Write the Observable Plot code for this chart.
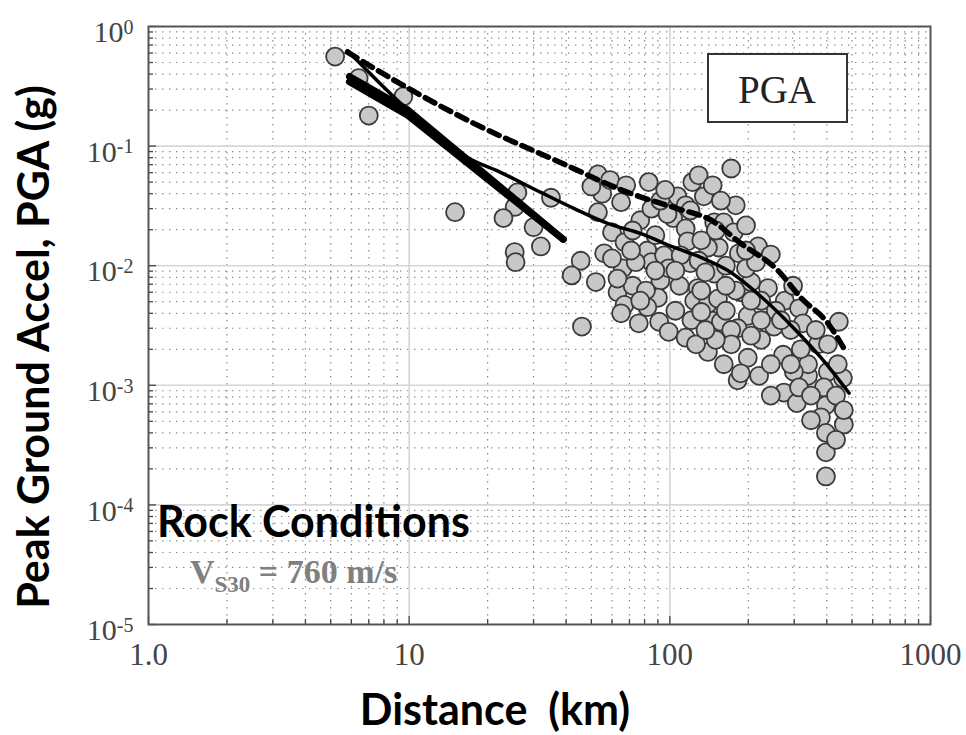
<!DOCTYPE html>
<html>
<head>
<meta charset="utf-8">
<script src="https://cdn.jsdelivr.net/npm/d3@7"></script>
<script src="https://cdn.jsdelivr.net/npm/@observablehq/plot@0.6"></script>
<style>
  html, body { margin: 0; padding: 0; background: #fff; }
  #chart { width: 966px; height: 735px; }
</style>
</head>
<body>
<div id="chart"></div>
<script>
// ---- Data (distance km, PGA g) ----
const distance = [
  5.2, 6.4, 7.0, 9.5, 15, 26, 25.4, 23, 30, 35, 32, 25.4, 25.6, 45.5, 42, 52, 46,
  53, 55, 53, 65, 60, 67, 56, 66, 63, 67, 65, 83, 77, 85, 82, 85, 92, 90, 82, 76, 91, 105, 109,
  107, 103, 122, 129, 135, 115, 117, 120, 128, 124, 121, 144, 140, 148, 148, 154, 115, 99, 98,
  172, 179, 161, 176, 218, 244, 95, 187, 238, 276, 313, 445, 132, 199, 251, 324, 157, 182, 132,
  140, 224, 272, 370, 161, 199, 182, 220, 274, 307, 339, 404, 461, 390, 397, 465, 380, 397, 397, 397,
  404, 339, 441, 299, 313, 150, 184, 140, 179, 205, 153, 172, 164, 187,
  50, 59, 72, 74, 99, 110, 88, 129, 137, 164, 196, 224, 255, 291, 205, 244, 318, 348, 434,
  72, 81, 60, 92, 115, 146, 157, 196, 214, 297, 172, 150, 126,
  68, 96, 120, 71, 88, 105, 77, 137, 205, 267, 363, 291, 244, 348, 434, 465, 224, 164, 132, 196, 63
];
const pga = [
  0.56, 0.37, 0.18, 0.26, 0.028, 0.041, 0.031, 0.025, 0.021, 0.037, 0.0145, 0.013, 0.0107, 0.011, 0.0083, 0.0073, 0.0031,
  0.058, 0.040, 0.028, 0.034, 0.019, 0.0157, 0.0127, 0.0095, 0.0060, 0.0047, 0.0040, 0.050, 0.024, 0.030, 0.0134, 0.0107, 0.0075, 0.0054, 0.0045, 0.0033, 0.0034, 0.0042, 0.0068,
  0.038, 0.025, 0.050, 0.057, 0.038, 0.0205, 0.016, 0.0105, 0.0065, 0.0051, 0.0035, 0.0035, 0.0048, 0.0086, 0.023, 0.0142, 0.0025, 0.0028, 0.027,
  0.065, 0.032, 0.023, 0.019, 0.0145, 0.0124, 0.0122, 0.0060, 0.0065, 0.0051, 0.0044, 0.0034, 0.0041, 0.0038, 0.0031, 0.0033, 0.0034, 0.0030, 0.0062,
  0.0019, 0.0024, 0.0018, 0.0022, 0.0015, 0.0017, 0.0011, 0.0012, 0.00087, 0.00071, 0.0012, 0.0013, 0.00115, 0.00096, 0.00068, 0.00047, 0.00054, 0.0004, 0.000275, 0.000173,
  0.0022, 0.0015, 0.0015, 0.0013, 0.00096, 0.0197, 0.0127, 0.0142, 0.0062, 0.0073, 0.0053, 0.0029, 0.0042, 0.00126,
  0.046, 0.052, 0.0197, 0.0107, 0.0095, 0.0122, 0.018, 0.011, 0.0088, 0.010, 0.0095, 0.0051, 0.0042, 0.0029, 0.0026, 0.0015, 0.0020, 0.00082, 0.00082,
  0.0068, 0.0062, 0.0115, 0.035, 0.032, 0.047, 0.035, 0.0217, 0.0107, 0.0068, 0.0022, 0.0024, 0.0022,
  0.047, 0.043, 0.029, 0.0134, 0.0091, 0.0091, 0.0051, 0.0029, 0.0051, 0.0035, 0.0029, 0.0015, 0.00082, 0.00051, 0.00035, 0.00062, 0.0035, 0.0068, 0.0163, 0.0134, 0.0078
];

// Dashed model curve
const dashedDist = [5.8, 9.3, 17.7, 38, 69, 107, 144, 187, 260, 318, 404, 474];
const dashedPGA  = [0.61, 0.33, 0.155, 0.073, 0.041, 0.030, 0.024, 0.0154, 0.0091, 0.0054, 0.0033, 0.0019];

// Thin solid model curve
const thinDist = [5.8, 9.9, 16.8, 22.5, 32, 43, 58, 77, 104, 132, 167, 224, 299, 380, 487];
const thinPGA  = [0.63, 0.20, 0.080, 0.060, 0.041, 0.030, 0.0225, 0.0186, 0.0142, 0.0117, 0.0091, 0.0055, 0.0030, 0.0017, 0.00086];

// Thick solid model curves (two nearly coincident lines)
const thickDist  = [5.9, 9.9, 39];
const thickUpper = [0.382, 0.20, 0.0166];
const thickLower = [0.345, 0.18, 0.0166];

// Axes
const xTicks = [1, 10, 100, 1000];
const xTickLabels = ["1.0", "10", "100", "1000"];
const yTicks = [1e-5, 1e-4, 1e-3, 1e-2, 1e-1, 1];
const yExponents = ["-5", "-4", "-3", "-2", "-1", "0"];

const minorX = [];
for (const base of [1, 10, 100]) for (let k = 2; k <= 9; k++) minorX.push(base * k);
const minorY = [];
for (const base of [1e-5, 1e-4, 1e-3, 1e-2, 1e-1]) for (let k = 2; k <= 9; k++) minorY.push(base * k);

const points = distance.map((d, i) => ({d, a: pga[i]}));
const dashed = dashedDist.map((d, i) => ({d, a: dashedPGA[i]}));
const thin = thinDist.map((d, i) => ({d, a: thinPGA[i]}));
const thickU = thickDist.map((d, i) => ({d, a: thickUpper[i]}));
const thickL = thickDist.map((d, i) => ({d, a: thickLower[i]}));

const xLabelOf = new Map(xTicks.map((t, i) => [t, xTickLabels[i]]));
const yExpOf = new Map(yTicks.map((t, i) => [t, yExponents[i]]));

const chart = Plot.plot({
  width: 966,
  height: 735,
  marginLeft: 148,
  marginRight: 36,
  marginTop: 26,
  marginBottom: 111,
  style: {fontFamily: "'Liberation Serif', 'DejaVu Serif', serif", background: "#fff"},
  x: {type: "log", domain: [1, 1000]},
  y: {type: "log", domain: [1e-5, 1]},
  marks: [
    Plot.ruleX(minorX, {stroke: "#8a8a8a", strokeWidth: 1.2, strokeDasharray: "1.4,5.6"}),
    Plot.ruleY(minorY, {stroke: "#8a8a8a", strokeWidth: 1.2, strokeDasharray: "1.4,5.6"}),
    Plot.ruleX([10, 100], {stroke: "#d6d6d6", strokeWidth: 1.6}),
    Plot.ruleY([1e-4, 1e-3, 1e-2, 1e-1], {stroke: "#d6d6d6", strokeWidth: 1.6}),
    Plot.axisX(minorX, {tickSize: -5, tickFormat: () => "", label: null, stroke: "#444", strokeWidth: 1.3}),
    Plot.axisX(xTicks, {tickSize: -8, tickFormat: () => "", label: null, stroke: "#444", strokeWidth: 1.3}),
    Plot.axisY(minorY, {tickSize: -5, tickFormat: () => "", label: null, stroke: "#444", strokeWidth: 1.3}),
    Plot.axisY(yTicks, {tickSize: -8, tickFormat: () => "", label: null, stroke: "#444", strokeWidth: 1.3}),
    Plot.axisX(xTicks, {tickSize: 0, tickPadding: 18, fontSize: 31, fill: "#444", label: null, tickFormat: d => xLabelOf.get(d)}),
    Plot.axisY(yTicks, {tickSize: 0, tickPadding: 15, fontSize: 30, fill: "#444", dy: 6, label: null, tickFormat: d => yExpOf.get(d)}),
    Plot.frame({stroke: "#555", strokeWidth: 2}),
    Plot.dot(points, {x: "d", y: "a", r: 9, fill: "#c8c8c8", stroke: "#3a3a3a", strokeWidth: 1.8}),
    Plot.line(thickU, {x: "d", y: "a", stroke: "#000", strokeWidth: 7}),
    Plot.line(thickL, {x: "d", y: "a", stroke: "#000", strokeWidth: 7}),
    Plot.line(thin, {x: "d", y: "a", stroke: "#000", strokeWidth: 3.5, curve: "monotone-x"}),
    Plot.line(dashed, {x: "d", y: "a", stroke: "#000", strokeWidth: 5.5, strokeDasharray: "11,7", curve: "monotone-x"})
  ]
});
document.getElementById("chart").appendChild(chart);

const svg = d3.select(chart);
// superscript exponents on y tick labels
svg.selectAll('g[aria-label="y-axis tick label"] text').each(function () {
  const t = d3.select(this);
  const e = t.text();
  if (!e) return;
  t.text(null);
  t.append("tspan").text("10");
  t.append("tspan").attr("dy", "-0.42em").attr("font-size", "20px").text(e);
});

// PGA box
svg.append("rect").attr("x", 708).attr("y", 54).attr("width", 139).attr("height", 68)
  .attr("fill", "#fff").attr("stroke", "#333").attr("stroke-width", 2);
svg.append("text").attr("x", 777).attr("y", 103).attr("text-anchor", "middle")
  .attr("font-family", "'Liberation Serif', serif").attr("font-size", 39).attr("fill", "#222").text("PGA");

// Rock conditions annotation
svg.append("text").attr("x", 157).attr("y", 537).attr("text-anchor", "start")
  .attr("font-family", "Lato, 'Open Sans', sans-serif").attr("font-weight", "bold")
  .attr("font-size", 43).attr("fill", "#000").text("Rock Conditions");
const vs = svg.append("text").attr("x", 190).attr("y", 583).attr("text-anchor", "start")
  .attr("font-family", "'Liberation Serif', serif").attr("font-weight", "bold")
  .attr("font-size", 34).attr("fill", "#808080");
vs.append("tspan").text("V");
vs.append("tspan").attr("font-size", 23).attr("dy", 9).text("S30");
vs.append("tspan").attr("dy", -9).text(" = 760 m/s");

// Axis titles
svg.append("text").attr("x", 495).attr("y", 725).attr("text-anchor", "middle")
  .attr("font-family", "Lato, 'Open Sans', sans-serif").attr("font-weight", "bold")
  .attr("font-size", 43).attr("fill", "#000").attr("xml:space", "preserve").text("Distance  (km)");
svg.append("text").attr("transform", "translate(49,347) rotate(-90)").attr("text-anchor", "middle")
  .attr("font-family", "Lato, 'Open Sans', sans-serif").attr("font-weight", "bold")
  .attr("font-size", 43).attr("fill", "#000").text("Peak Ground Accel, PGA (g)");
</script>
</body>
</html>
